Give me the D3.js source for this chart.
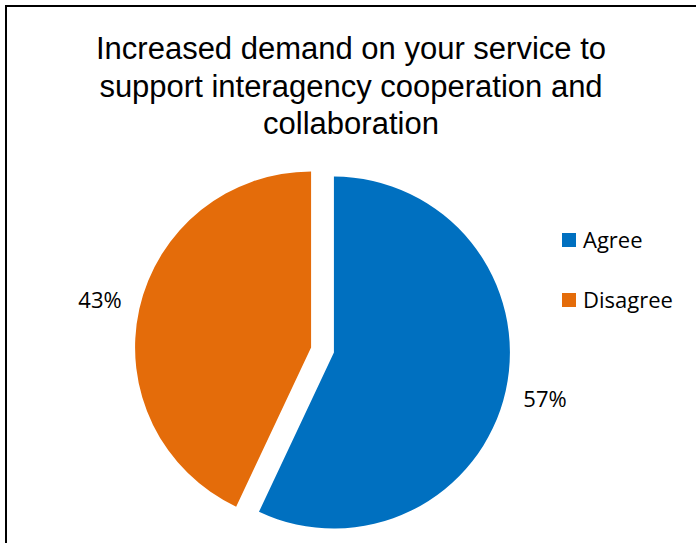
<!DOCTYPE html>
<html>
<head>
<meta charset="utf-8">
<script src="https://cdn.jsdelivr.net/npm/d3@7"></script>
<style>
  html, body { margin: 0; padding: 0; background: #fff; }
  svg { display: block; }
</style>
</head>
<body>
<svg id="chart" width="696" height="543"></svg>
<script>
// Survey responses
const categories = ["Agree", "Disagree"];
const values = [57, 43];
const colors = ["#0070C0", "#E46C0A"];
const titleLines = [
  "Increased demand on your service to",
  "support interagency cooperation and",
  "collaboration"
];

const width = 696, height = 543;
const svg = d3.select("#chart");

// Chart frame (top and left edges visible)
svg.append("path")
  .attr("d", "M6,543 V6 H696")
  .attr("fill", "none")
  .attr("stroke", "#000")
  .attr("stroke-width", 2);

// Title
const title = svg.append("text")
  .attr("text-anchor", "middle")
  .attr("font-family", "'Liberation Sans', Arial, sans-serif")
  .attr("font-size", 31)
  .attr("fill", "#000");
titleLines.forEach((line, i) => {
  title.append("tspan")
    .attr("x", 351)
    .attr("y", 59 + i * 37.5)
    .text(line);
});

// Pie
const cx = 322.5, cy = 350, radius = 176, explode = 11.7, labelRadius = 228;
const pie = d3.pie().sort(null).value(d => d.value).startAngle(0).endAngle(2 * Math.PI);
const data = categories.map((c, i) => ({ name: c, value: values[i], color: colors[i] }));
const arcs = pie(data);
const arc = d3.arc().innerRadius(0).outerRadius(radius);

const g = svg.append("g").attr("transform", `translate(${cx},${cy})`);

g.selectAll("path.slice")
  .data(arcs)
  .join("path")
  .attr("class", "slice")
  .attr("d", arc)
  .attr("fill", d => d.data.color)
  .attr("transform", d => {
    const a = (d.startAngle + d.endAngle) / 2;
    return `translate(${Math.sin(a) * explode},${-Math.cos(a) * explode})`;
  });

const total = d3.sum(values);
g.selectAll("text.pct")
  .data(arcs)
  .join("text")
  .attr("class", "pct")
  .attr("x", d => Math.sin((d.startAngle + d.endAngle) / 2) * labelRadius)
  .attr("y", d => -Math.cos((d.startAngle + d.endAngle) / 2) * labelRadius)
  .attr("dy", "0.35em")
  .attr("text-anchor", "middle")
  .attr("font-family", "'Open Sans', sans-serif")
  .attr("font-size", 22)
  .attr("fill", "#000")
  .text(d => Math.round(d.data.value / total * 100) + "%");

// Legend
const legend = svg.append("g").attr("transform", "translate(562,0)");
const legendItems = legend.selectAll("g")
  .data(data)
  .join("g")
  .attr("transform", (d, i) => `translate(0,${240 + i * 60})`);
legendItems.append("rect")
  .attr("x", 0).attr("y", -7)
  .attr("width", 14).attr("height", 14)
  .attr("fill", d => d.color);
legendItems.append("text")
  .attr("x", 21)
  .attr("dy", "0.35em")
  .attr("font-family", "'Open Sans', sans-serif")
  .attr("font-size", 22)
  .attr("fill", "#000")
  .text(d => d.name);
</script>
</body>
</html>
